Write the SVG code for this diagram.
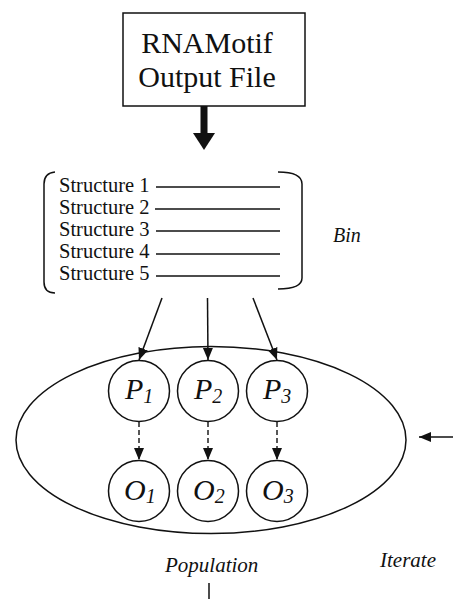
<svg xmlns="http://www.w3.org/2000/svg" width="453" height="599" viewBox="0 0 453 599">
  <style>
    .ln { fill: none; stroke: #111; stroke-width: 1.5; }
    .dash { fill: none; stroke: #111; stroke-width: 1.4; stroke-dasharray: 5 3; }
    .node { fill: #fff; stroke: #111; stroke-width: 1.5; }
    .serif { font-family: "Liberation Serif", "Times New Roman", serif; fill: #111; }
    .it { font-style: italic; }
  </style>
  <defs>
    <marker id="head" markerUnits="userSpaceOnUse" markerWidth="12" markerHeight="14" viewBox="0 0 12 14" refX="12" refY="5" orient="auto">
      <path d="M0,0 L12,5 L0,10 Z" fill="#111"/>
    </marker>
  </defs>
  <rect width="453" height="599" fill="#fff"/>

  <!-- source file box -->
  <g id="output-file">
    <rect class="node" x="123" y="13" width="182" height="93"/>
    <text class="serif" x="207" y="53" font-size="30" text-anchor="middle">RNAMotif</text>
    <text class="serif" x="207" y="87" font-size="30" text-anchor="middle">Output File</text>
  </g>

  <!-- structure bin -->
  <g id="bin">
    <path class="ln" d="M55,172 Q44,173 44,184 L44,282 Q44,293 55,293"/>
    <path class="ln" d="M278,172 Q302,172 302,184 L302,278 Q302,289 278,289"/>
    <g class="serif" font-size="20.5">
      <text x="59" y="192">Structure 1</text>
      <text x="59" y="214">Structure 2</text>
      <text x="59" y="236">Structure 3</text>
      <text x="59" y="258">Structure 4</text>
      <text x="59" y="280">Structure 5</text>
    </g>
    <g class="ln">
      <line x1="156" y1="187" x2="280" y2="187"/>
      <line x1="155" y1="209" x2="280" y2="209"/>
      <line x1="156" y1="231" x2="280" y2="231"/>
      <line x1="156" y1="254" x2="280" y2="254"/>
      <line x1="156" y1="276" x2="280" y2="276"/>
    </g>
    <text class="serif it" x="333" y="242" font-size="20">Bin</text>
  </g>

  <!-- population -->
  <g id="population">
    <ellipse class="ln" cx="211" cy="440" rx="195" ry="93.5"/>
  </g>
  <g id="p1">
    <circle class="node" cx="139" cy="391" r="30.5"/>
    <text class="serif it" x="125" y="399" font-size="30">P<tspan font-size="20" dy="4">1</tspan></text>
  </g>
  <g id="p2">
    <circle class="node" cx="208" cy="391" r="30.5"/>
    <text class="serif it" x="194" y="399" font-size="30">P<tspan font-size="20" dy="4">2</tspan></text>
  </g>
  <g id="p3">
    <circle class="node" cx="277" cy="391" r="30.5"/>
    <text class="serif it" x="263" y="399" font-size="30">P<tspan font-size="20" dy="4">3</tspan></text>
  </g>
  <g id="o1">
    <circle class="node" cx="139" cy="491" r="30.5"/>
    <text class="serif it" x="124" y="500" font-size="30">O<tspan font-size="20" dy="3">1</tspan></text>
  </g>
  <g id="o2">
    <circle class="node" cx="208" cy="491" r="30.5"/>
    <text class="serif it" x="193" y="500" font-size="30">O<tspan font-size="20" dy="3">2</tspan></text>
  </g>
  <g id="o3">
    <circle class="node" cx="277" cy="491" r="30.5"/>
    <text class="serif it" x="262" y="500" font-size="30">O<tspan font-size="20" dy="3">3</tspan></text>
  </g>

  <!-- labels -->
  <text class="serif it" x="165" y="572" font-size="21">Population</text>
  <text class="serif it" x="380" y="567" font-size="21">Iterate</text>

  <!-- connectors -->
  <g id="connectors">
    <rect x="200.5" y="106" width="7" height="28" fill="#111"/>
    <path d="M193,133 L215,133 L204,150 Z" fill="#111"/>
    <line class="ln" x1="162" y1="298" x2="139" y2="360" marker-end="url(#head)"/>
    <line class="ln" x1="207.5" y1="298" x2="208" y2="360" marker-end="url(#head)"/>
    <line class="ln" x1="253" y1="298" x2="277" y2="360" marker-end="url(#head)"/>
    <line class="dash" x1="139" y1="422" x2="139" y2="460" marker-end="url(#head)"/>
    <line class="dash" x1="208" y1="422" x2="208" y2="460" marker-end="url(#head)"/>
    <line class="dash" x1="277" y1="422" x2="277" y2="460" marker-end="url(#head)"/>
    <line class="ln" x1="453" y1="437" x2="419" y2="437" marker-end="url(#head)"/>
    <line class="ln" x1="209" y1="583" x2="209" y2="599"/>
  </g>
</svg>
